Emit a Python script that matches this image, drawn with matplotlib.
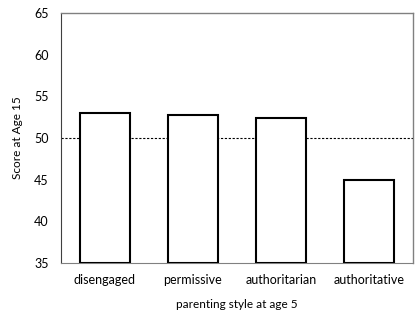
import matplotlib
matplotlib.use("Agg")
import matplotlib.pyplot as plt

categories = ["disengaged", "permissive", "authoritarian", "authoritative"]
scores = [53.0, 52.7, 52.4, 45.0]
y_ticks = [35, 40, 45, 50, 55, 60, 65]
reference_line = 50

plt.rcParams['font.family'] = ['Lato', 'DejaVu Sans']

fig = plt.figure(figsize=(4.17, 3.15), dpi=100)
ax = fig.add_axes([61/417, 1 - 263/315, (413-61)/417, (263-13)/315])

x = list(range(len(categories)))
base = 35
ax.bar(x, [s - base for s in scores], bottom=base, width=0.56,
       facecolor='white', edgecolor='black', linewidth=1.5, zorder=3)
ax.axhline(reference_line, color='black', linestyle=(0, (2, 1.5)), linewidth=0.8, zorder=2)

ax.set_xlim(-0.5, len(categories) - 0.5)
ax.set_ylim(35, 65)
ax.set_yticks(y_ticks)
ax.set_xticks(x)
ax.set_xticklabels(categories)
ax.tick_params(axis='both', length=0, labelsize=9)
ax.tick_params(axis='y', pad=14)
ax.tick_params(axis='x', pad=8)
for lbl in ax.get_yticklabels():
    lbl.set_horizontalalignment('center')

for side in ['top', 'right']:
    ax.spines[side].set_color('#808080')
    ax.spines[side].set_linewidth(1.0)
ax.spines['left'].set_color('#404040')
ax.spines['bottom'].set_color('#808080')
ax.spines['left'].set_linewidth(0.8)
ax.spines['bottom'].set_linewidth(0.8)

ax.set_ylabel("Score at Age 15", fontsize=8.5, labelpad=8)
ax.set_xlabel("parenting style at age 5", fontsize=8.5, labelpad=9)

fig.savefig("out.png", dpi=100)
